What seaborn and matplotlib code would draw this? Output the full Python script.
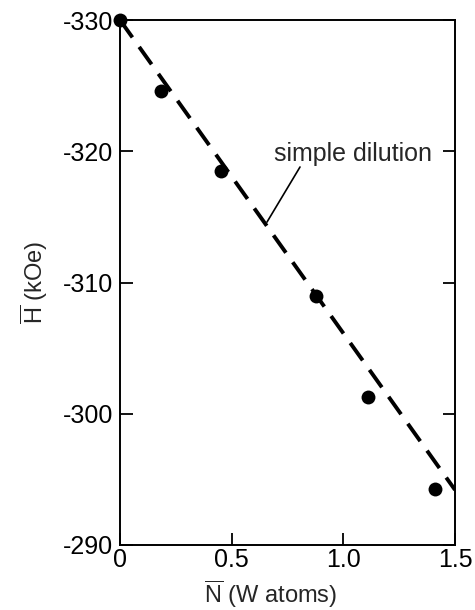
import matplotlib
matplotlib.use("Agg")
import matplotlib.pyplot as plt
import seaborn as sns
import pandas as pd

# data
n_w = [0.0, 0.184, 0.452, 0.878, 1.11, 1.41]
h_field = [-330.0, -324.6, -318.5, -309.0, -301.3, -294.3]
line_x = [0.0, 1.5]
line_y = [-330.0, -294.2]
xticks = [0, 0.5, 1.0, 1.5]
xtick_labels = ["0", "0.5", "1.0", "1.5"]
yticks = [-330, -320, -310, -300, -290]
ytick_labels = ["-330", "-320", "-310", "-300", "-290"]

sns.set_theme(style="white")
plt.rcParams["font.family"] = ["Liberation Sans", "DejaVu Sans"]
plt.rcParams["mathtext.fontset"] = "custom"
plt.rcParams["mathtext.rm"] = "Liberation Sans"
plt.rcParams["mathtext.it"] = "Liberation Sans"
plt.rcParams["axes.unicode_minus"] = False

fig = plt.figure(figsize=(4.75, 6.1), dpi=100)
ax = fig.add_axes([120/475, 65/610, 335/475, 525/610])

pts = pd.DataFrame({"N": n_w, "H": h_field})
ln = pd.DataFrame({"N": line_x, "H": line_y})

sns.lineplot(data=ln, x="N", y="H", ax=ax, color="black", linewidth=2.8,
             dashes=False, linestyle=(0, (5.5, 3)), zorder=2)
sns.scatterplot(data=pts, x="N", y="H", ax=ax, color="black", s=100,
                edgecolor="black", linewidth=0, zorder=3, clip_on=False)

ax.set_xlim(0, 1.5)
ax.set_ylim(-290, -330)
ax.set_xticks(xticks)
ax.set_xticklabels(xtick_labels, fontsize=18)
ax.set_yticks(yticks)
ax.set_yticklabels(ytick_labels, fontsize=18)
ax.tick_params(axis="both", direction="in", length=9, width=1.3, color="black",
               labelcolor="black")
ax.tick_params(axis="y", right=True, left=True, pad=5)
ax.tick_params(axis="x", top=False, bottom=True, pad=2)
for s in ax.spines.values():
    s.set_visible(True)
    s.set_color("black")
    s.set_linewidth(1.4)

ax.set_xlabel(r"$\overline{\mathrm{N}}$ (W atoms)", fontsize=17)
ax.xaxis.set_label_coords(0.45, -0.064)
ax.set_ylabel(r"$\overline{\mathrm{H}}$ (kOe)", fontsize=17, labelpad=9)

ax.text(0.69, -319.8, "simple dilution", fontsize=18, ha="left", va="center")
ax.plot([0.806, 0.658], [-318.8, -314.6], color="black", linewidth=1.2)

fig.savefig("out.png", dpi=100, facecolor="white")
